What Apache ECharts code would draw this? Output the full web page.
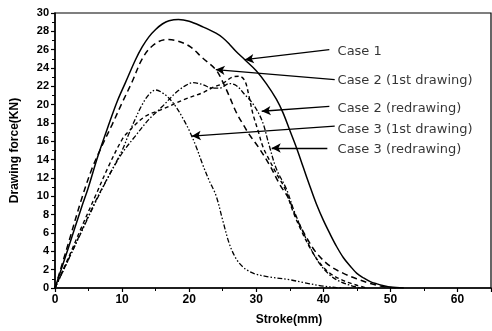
<!DOCTYPE html>
<html><head><meta charset="utf-8">
<script src="https://cdn.jsdelivr.net/npm/echarts@6/dist/echarts.min.js"></script>
<style>html,body{margin:0;padding:0;background:#fff}#c{width:492px;height:331px}</style>
</head><body><div id="c"></div>
<script>
// ---- data (stroke mm, force kN) ----
const case1 = [[0,0],[2,4.4],[4,8.9],[4.9,10.8],[6.4,14.4],[8,17.8],[9.3,20.4],[10.5,22.4],[12,24.9],[13,26.3],[14,27.4],[15,28.2],[16,28.8],[17,29.15],[18.4,29.3],[20,29.1],[22,28.5],[24,27.8],[25,27.3],[26,26.6],[27,25.8],[28.3,24.9],[30,23.7],[31.5,22.3],[33,20.6],[34,19.1],[35,17.2],[36,15.3],[37,13.2],[38,11.1],[39,9.1],[40,7.4],[41,5.9],[42,4.5],[43,3.3],[44,2.4],[45,1.6],[46,1.1],[47,0.7],[48,0.45],[49,0.25],[50,0.1],[52,0]];
const case2First = [[0,0],[2,4.9],[4,9.8],[5.5,13],[7,15.5],[8.5,17.8],[10,20.2],[11.5,22.5],[13,25],[14.5,26.4],[16.5,27.1],[18,27],[20,26.4],[22,25.1],[24,23.8],[25,22.5],[26,20.9],[27,19.2],[28,17.9],[29,16.7],[30.3,15.4],[32,13.4],[33.5,11.3],[34.8,9.8],[36,7.6],[37.5,5.5],[39,3.8],[41,2.4],[43,1.6],[45,1.0],[47,0.5],[49,0.15],[51,0]];
const case2Redraw = [[0,0],[2,3.1],[4,6.3],[6,9.4],[8,12.2],[10,14.7],[12,16.6],[14,18.4],[16,19.8],[18,21.3],[19.5,22.1],[20.6,22.4],[22,22.2],[23.5,21.8],[24.5,21.8],[26,22.3],[27,22.1],[28.3,21.1],[29.6,20],[30.9,18.2],[31.8,15.9],[33,13],[34.5,10.8],[35.6,8.5],[36.8,6.4],[38.2,4.2],[39.5,2.6],[41,1.4],[42.5,0.7],[44,0.3],[45.5,0]];
const case3First = [[0,0],[2,3.1],[4,6.2],[6,9.3],[8,12.2],[10,15],[11,16.8],[12,18.5],[13,20],[14,21.1],[15,21.6],[16,21.3],[17,20.7],[18,19.8],[19,18.6],[20,17.2],[21,15.5],[22,13.5],[23,11.7],[24,10.1],[25,7.4],[26,4.8],[27,3.2],[28,2.3],[29,1.8],[30,1.5],[32,1.2],[35,0.9],[37,0.6],[40,0.2],[42,0.05],[43,0]];
const case3Redraw = [[0,0],[2,3.3],[4,6.7],[6,10],[8,13.3],[10,16.2],[11,17.1],[13.4,18.7],[16,19.5],[19.4,20.6],[22,21.3],[23.6,21.9],[25,22.3],[26.4,23.0],[27.5,23.1],[28.3,22.6],[28.9,21],[29.5,19],[30.3,17.1],[31,15.4],[32,13.9],[33,12.5],[34.3,10.8],[35.4,8.5],[36.5,6.6],[38,4.4],[39.5,2.7],[41,1.6],[43,0.8],[45,0.3],[46.5,0]];
// annotation labels and arrows
const labelNames = ["Case 1","Case 2 (1st drawing)","Case 2 (redrawing)","Case 3 (1st drawing)","Case 3 (redrawing)"];
const labelPos = [[41.9,25.8],[41.9,22.6],[41.9,19.6],[41.9,17.3],[41.9,15.1]];
const arrowStart = [[40.9,26.0],[41.7,22.74],[40.9,19.82],[41.7,17.65],[40.6,15.27]];
const arrowTip = [[28.3,24.91],[23.97,23.83],[30.82,19.28],[20.4,16.57],[32.31,15.27]];
const xTicks = [0,10,20,30,40,50,60];
const yTicks = [0,2,4,6,8,10,12,14,16,18,20,22,24,26,28,30];

const chart = echarts.init(document.getElementById('c'));
const F = 'Liberation Sans, Arial, sans-serif';
function line(name, data, dash, w){
  return {name, type:'line', data, smooth:0.35, symbol:'none', z:3,
    lineStyle:{color:'#000', width:w||1.3, type:dash}};
}
chart.setOption({
  animation:false,
  grid:{left:55, right:1, top:13, bottom:41, show:true, borderColor:'#000', borderWidth:1.2},
  xAxis:{type:'value', min:0, max:65, interval:10,
    axisLine:{lineStyle:{color:'#000', width:1.5}},
    axisTick:{length:4, lineStyle:{color:'#000', width:1.2}},
    minorTick:{show:true, splitNumber:2, length:3, lineStyle:{color:'#000'}},
    splitLine:{show:false},
    axisLabel:{color:'#000', fontFamily:F, fontWeight:'bold', fontSize:12, margin:6, showMaxLabel:false,
      formatter:v=> xTicks.includes(v)? String(v):''},
    name:'Stroke(mm)', nameLocation:'middle', nameGap:26,
    nameTextStyle:{color:'#000', fontFamily:F, fontWeight:'bold', fontSize:12, padding:[0,0,0,32]}},
  yAxis:{type:'value', min:0, max:30, interval:2,
    axisLine:{lineStyle:{color:'#000', width:1.5}},
    axisTick:{length:4, lineStyle:{color:'#000', width:1.2}},
    minorTick:{show:true, splitNumber:2, length:3, lineStyle:{color:'#000'}},
    splitLine:{show:false},
    axisLabel:{color:'#000', fontFamily:F, fontWeight:'bold', fontSize:11, margin:6,
      formatter:v=> yTicks.includes(v)? String(v):''},
    name:'Drawing force(KN)', nameLocation:'middle', nameGap:34, nameRotate:90,
    nameTextStyle:{color:'#000', fontFamily:F, fontWeight:'bold', fontSize:12}},
  series:[
    line('Case 1', case1, 'solid', 1.5),
    line('Case 2 (1st drawing)', case2First, [6,4], 1.5),
    line('Case 2 (redrawing)', case2Redraw, [5,2,1.5,2], 1.3),
    line('Case 3 (1st drawing)', case3First, [5,2,1.5,2,1.5,2], 1.3),
    line('Case 3 (redrawing)', case3Redraw, [4,3], 1.4),
    {type:'scatter', symbol:'circle', symbolSize:1, silent:true, z:5,
      itemStyle:{color:'rgba(0,0,0,0)'},
      data: labelPos.map((p,i)=>({value:p, label:{show:true, formatter:labelNames[i]}})),
      label:{show:true, position:'right', distance:1, color:'#000', fontFamily:'DejaVu Sans, sans-serif', fontSize:13},
      labelLayout:{hideOverlap:false},
      markLine:{silent:true, symbol:['none','arrow'], symbolSize:[7,9], animation:false,
        lineStyle:{color:'#000', width:1.3, type:'solid'}, label:{show:false},
        data: arrowStart.map((s,i)=>[{coord:s},{coord:arrowTip[i]}])}}
  ]
});
</script></body></html>
